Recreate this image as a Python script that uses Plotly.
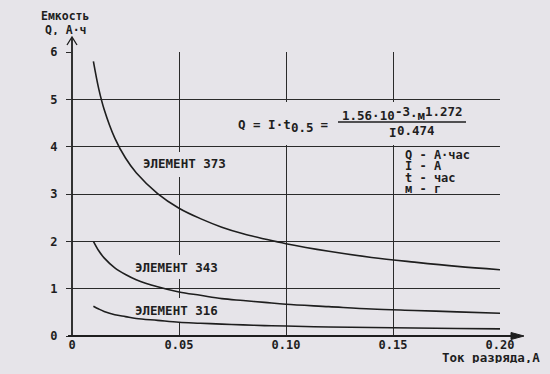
import plotly.graph_objects as go

# ---- data ----
current_A = [0.01, 0.0125, 0.015, 0.02, 0.025, 0.03, 0.04, 0.05, 0.06, 0.07,
             0.08, 0.09, 0.10, 0.12, 0.14, 0.16, 0.18, 0.20]
q_373 = [5.80, 5.22, 4.79, 4.18, 3.76, 3.45, 3.01, 2.70, 2.48, 2.30,
         2.16, 2.05, 1.95, 1.79, 1.66, 1.56, 1.47, 1.40]
q_343 = [2.00, 1.80, 1.65, 1.44, 1.30, 1.19, 1.04, 0.93, 0.86, 0.79,
         0.75, 0.71, 0.67, 0.62, 0.57, 0.54, 0.51, 0.48]
q_316 = [0.63, 0.57, 0.52, 0.45, 0.41, 0.37, 0.33, 0.29, 0.27, 0.25,
         0.235, 0.22, 0.21, 0.19, 0.18, 0.17, 0.16, 0.15]

series_names = ["ЭЛЕМЕНТ 373", "ЭЛЕМЕНТ 343", "ЭЛЕМЕНТ 316"]
x_tickvals = [0, 0.05, 0.10, 0.15, 0.20]
x_ticktext = ["0", "0.05", "0.10", "0.15", "0.20"]
y_tickvals = [0, 1, 2, 3, 4, 5, 6]
y_ticktext = ["0", "1", "2", "3", "4", "5", "6"]
legend_lines = ["Q - А·час", "I - А", "t - час", "м - г"]
y_title = ["Емкость", "Q, А·ч"]
x_title = "Ток разряда,А"
# formula pieces: (text, vertical shift in px; negative = raised)
formula_left = [("Q = I·t", 0), ("0.5", 3), (" =", 0)]
formula_num = [("1.56·10", 0), ("-3", -4), ("·м", 0), ("1.272", -4)]
formula_den = [("I", 0), ("0.474", -2)]

BG = "#e6e4e9"
INK = "#1e1e1e"
GRID = "#2a2a2a"
FONT = "DejaVu Sans Mono"
FS = 12.5
CW = 0.602 * FS  # monospace advance

W, H = 550, 374
L, R, T, B = 72, 50, 52, 38
PW, PH = W - L - R, H - T - B


def px(xp):
    return (xp - L) / PW


def py(yp):
    return (H - B - yp) / PH


def dx(xp):
    return (xp - L) / PW * 0.20


def dy(yp):
    return (H - B - yp) / PH * 6


fig = go.Figure()
for name, q in zip(series_names, [q_373, q_343, q_316]):
    fig.add_trace(go.Scatter(x=current_A, y=q, mode="lines", name=name,
                             line=dict(color=INK, width=1.6, shape="spline"),
                             showlegend=False, hoverinfo="skip"))

shapes = []
# masks that interrupt grid lines behind the texts
masks = [(232, 472, 102, 145),   # formula
         (172, 186, 152, 177),   # label 373
         (172, 186, 255, 279),   # label 343
         (172, 186, 298, 322)]   # label 316
for x0, x1, y0, y1 in masks:
    shapes.append(dict(type="rect", xref="x", yref="y",
                       x0=dx(x0), x1=dx(x1), y0=dy(y1), y1=dy(y0),
                       fillcolor=BG, line=dict(width=0), layer="between"))
# axes with arrows
shapes.append(dict(type="line", xref="paper", yref="paper", x0=px(68), x1=px(516),
                   y0=0, y1=0, line=dict(color=INK, width=1.8)))
shapes.append(dict(type="path", xref="paper", yref="paper",
                   path=f"M {px(524)} {py(336)} L {px(511)} {py(332.5)} L {px(511)} {py(339.5)} Z",
                   fillcolor=INK, line=dict(color=INK, width=1)))
shapes.append(dict(type="line", xref="paper", yref="paper", x0=0, x1=0,
                   y0=0, y1=py(38), line=dict(color=INK, width=1.8)))
shapes.append(dict(type="path", xref="paper", yref="paper",
                   path=f"M {px(67)} {py(45)} L {px(72)} {py(37)} L {px(77)} {py(45)}",
                   line=dict(color=INK, width=1.3)))
# fraction bar
shapes.append(dict(type="line", xref="paper", yref="paper", x0=px(338), x1=px(466),
                   y0=py(122), y1=py(122), line=dict(color=INK, width=1.5)))

annotations = []
label_px = [(184, 163), (176, 267), (176, 310)]
for name, (lx, ly) in zip(series_names, label_px):
    annotations.append(dict(x=dx(lx), y=dy(ly), xref="x", yref="y", text=f"<b>{name}</b>",
                            showarrow=False, xanchor="center", yanchor="middle",
                            font=dict(family=FONT, size=FS, color=INK)))


def add_pieces(pieces, x0, yc):
    n = 0
    for txt, shift in pieces:
        annotations.append(dict(x=px(x0 + n * CW), y=py(yc + shift), xref="paper", yref="paper",
                                text=f"<b>{txt}</b>", showarrow=False, xanchor="left",
                                yanchor="middle", borderpad=0, height=12,
                                font=dict(family=FONT, size=FS, color=INK)))
        n += len(txt)


add_pieces(formula_left, 237, 124)
add_pieces(formula_num, 341, 115)
add_pieces(formula_den, 388, 131.5)

legend_y = [154, 165.5, 177, 188.5]
for t, yp in zip(legend_lines, legend_y):
    annotations.append(dict(x=px(404), y=py(yp), xref="paper", yref="paper", text=f"<b>{t}</b>",
                            showarrow=False, xanchor="left", yanchor="middle", height=11,
                            borderpad=0, font=dict(family=FONT, size=12, color=INK)))

annotations.append(dict(x=px(65), y=py(16), xref="paper", yref="paper", text=f"<b>{y_title[0]}</b>",
                        showarrow=False, xanchor="center", yanchor="middle", height=11,
                        font=dict(family=FONT, size=11.5, color=INK)))
annotations.append(dict(x=px(66), y=py(29), xref="paper", yref="paper", text=f"<b>{y_title[1]}</b>",
                        showarrow=False, xanchor="center", yanchor="middle", height=11,
                        font=dict(family=FONT, size=11.5, color=INK)))
annotations.append(dict(x=px(542), y=py(357), xref="paper", yref="paper", text=f"<b>{x_title}</b>",
                        showarrow=False, xanchor="right", yanchor="middle", height=11,
                        font=dict(family=FONT, size=FS, color=INK)))

fig.update_layout(
    width=W, height=H,
    margin=dict(l=L, r=R, t=T, b=B, pad=0),
    paper_bgcolor=BG, plot_bgcolor=BG,
    shapes=shapes, annotations=annotations,
    showlegend=False,
    xaxis=dict(range=[0, 0.20], tickvals=x_tickvals,
               ticktext=[f"<b>{t}</b>" for t in x_ticktext],
               showgrid=True, gridcolor=GRID, gridwidth=1.4, zeroline=False, showline=False,
               ticks="", tickfont=dict(family=FONT, size=12, color=INK), fixedrange=True),
    yaxis=dict(range=[0, 6], tickvals=y_tickvals,
               ticktext=[f"<b>{t}</b>" for t in y_ticktext],
               showgrid=True, gridcolor=GRID, gridwidth=1.4, zeroline=False, showline=False,
               ticks="outside", ticklen=5, tickcolor=GRID, tickwidth=1.4,
               ticklabelstandoff=6,
               tickfont=dict(family=FONT, size=12, color=INK), fixedrange=True),
)

fig.write_html("out.html")
